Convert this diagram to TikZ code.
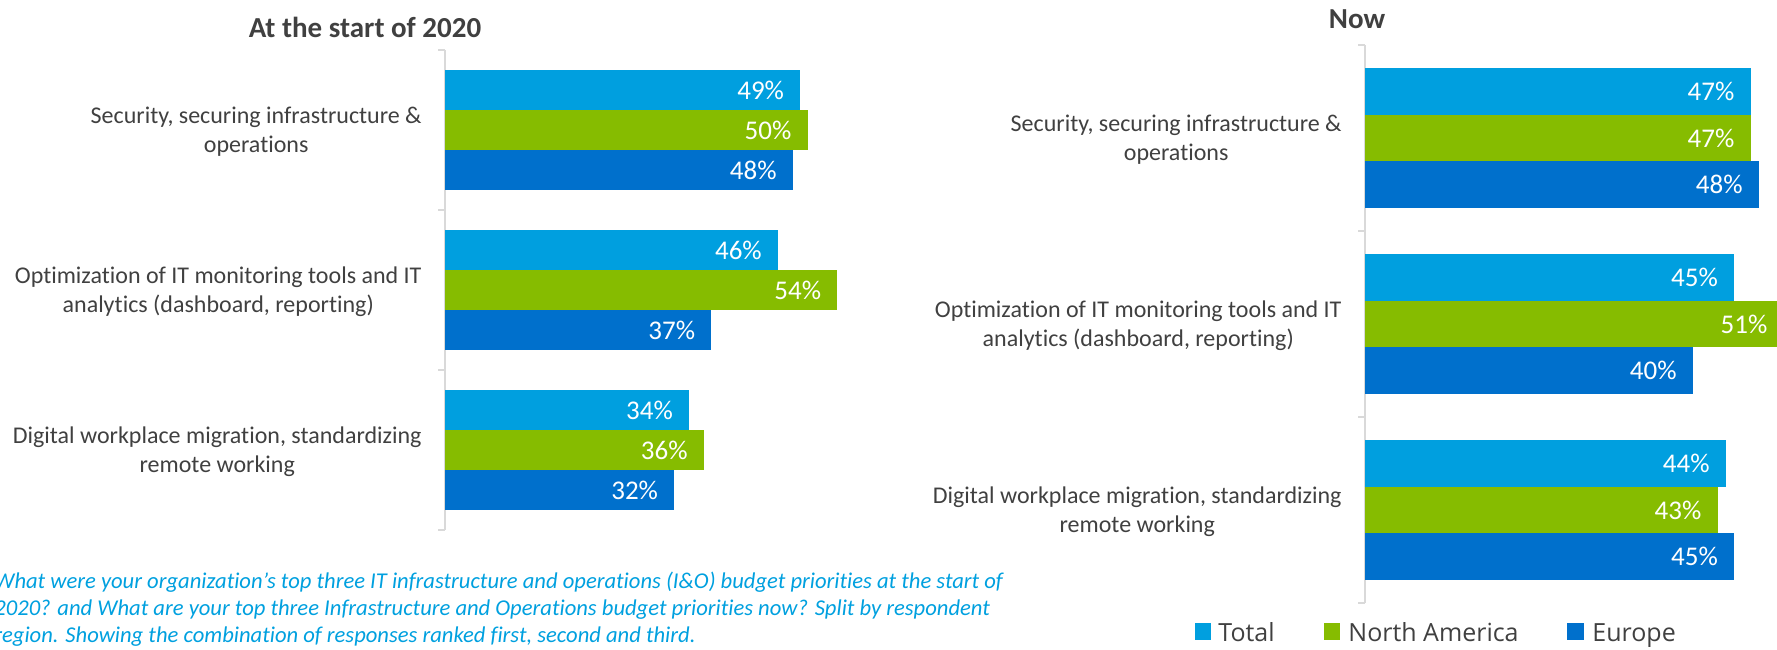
\documentclass[tikz,border=0pt]{standalone}
\usepackage{fontspec}
\setmainfont{Carlito}[Ligatures=NoCommon]
\newfontfamily\legendfont{Open Sans}
\definecolor{totcol}{HTML}{009FDF}
\definecolor{nacol}{HTML}{86BC00}
\definecolor{eucol}{HTML}{0070CC}
\definecolor{txtcol}{HTML}{404040}
\definecolor{axcol}{HTML}{D9D9D9}
\definecolor{notecol}{HTML}{00A0DF}
\tikzset{
  val/.style={anchor=east, inner sep=0pt, text=white, font=\fontsize{13.5}{16}\selectfont},
  catlabel/.style={anchor=east, inner sep=0pt, align=center, text=txtcol, font=\fontsize{12}{14.5}\selectfont},
  charttitle/.style={inner sep=0pt, text=txtcol, font=\bfseries\fontsize{14.5}{17}\selectfont},
  axisline/.style={draw=axcol, line width=0.75pt},
  legtext/.style={anchor=base west, inner sep=0pt, text=txtcol, font=\legendfont\fontsize{12.5}{15}\selectfont}
}
\begin{document}
\begin{tikzpicture}[x=0.5pt,y=-0.5pt]
\useasboundingbox (0,0) rectangle (1777,649);
% left chart
\node[charttitle] (lefttitle) at (365,27) {At the start of 2020};
\draw[axisline] (445,50) -- (445,530);
\draw[axisline] (438,50) -- (445,50);
\draw[axisline] (438,210) -- (445,210);
\draw[axisline] (438,370) -- (445,370);
\draw[axisline] (438,530) -- (445,530);
\fill[totcol] (445,70) rectangle (437.3+49*7.41,110);
\fill[nacol] (445,110) rectangle (437.3+50*7.41,150);
\fill[eucol] (445,150) rectangle (437.3+48*7.41,190);
\fill[totcol] (445,230) rectangle (437.3+46*7.41,270);
\fill[nacol] (445,270) rectangle (437.3+54*7.41,310);
\fill[eucol] (445,310) rectangle (437.3+37*7.41,350);
\fill[totcol] (445,390) rectangle (437.3+34*7.41,430);
\fill[nacol] (445,430) rectangle (437.3+36*7.41,470);
\fill[eucol] (445,470) rectangle (437.3+32*7.41,510);
\node[val] (l1t) at (421.3+49*7.41,90) {49\%};
\node[val] (l1n) at (421.3+50*7.41,130) {50\%};
\node[val] (l1e) at (421.3+48*7.41,170) {48\%};
\node[val] (l2t) at (421.3+46*7.41,250) {46\%};
\node[val] (l2n) at (421.3+54*7.41,290) {54\%};
\node[val] (l2e) at (421.3+37*7.41,330) {37\%};
\node[val] (l3t) at (421.3+34*7.41,410) {34\%};
\node[val] (l3n) at (421.3+36*7.41,450) {36\%};
\node[val] (l3e) at (421.3+32*7.41,490) {32\%};
\node[catlabel] (lcat1) at (422,132) {Security, securing infrastructure \&\\operations};
\node[catlabel] (lcat2) at (422,292) {Optimization of IT monitoring tools and IT\\analytics (dashboard, reporting)};
\node[catlabel] (lcat3) at (422,452) {Digital workplace migration, standardizing\\remote working};
% right chart
\node[charttitle] (righttitle) at (1357,19) {Now};
\draw[axisline] (1365,45) -- (1365,603);
\draw[axisline] (1358,45) -- (1365,45);
\draw[axisline] (1358,231) -- (1365,231);
\draw[axisline] (1358,417) -- (1365,417);
\draw[axisline] (1358,603) -- (1365,603);
\fill[totcol] (1365,68) rectangle (1363+47*8.25,114.7);
\fill[nacol] (1365,114.7) rectangle (1363+47*8.25,161.3);
\fill[eucol] (1365,161.3) rectangle (1363+48*8.25,208);
\fill[totcol] (1365,254) rectangle (1363+45*8.25,300.7);
\fill[nacol] (1365,300.7) rectangle (1363+51*8.25,347.3);
\fill[eucol] (1365,347.3) rectangle (1363+40*8.25,394);
\fill[totcol] (1365,440) rectangle (1363+44*8.25,486.7);
\fill[nacol] (1365,486.7) rectangle (1363+43*8.25,533.3);
\fill[eucol] (1365,533.3) rectangle (1363+45*8.25,580);
\node[val] (r1t) at (1347+47*8.25,91.3) {47\%};
\node[val] (r1n) at (1347+47*8.25,138) {47\%};
\node[val] (r1e) at (1347+48*8.25,184.7) {48\%};
\node[val] (r2t) at (1347+45*8.25,277.3) {45\%};
\node[val] (r2n) at (1347+51*8.25,324) {51\%};
\node[val] (r2e) at (1347+40*8.25,370.7) {40\%};
\node[val] (r3t) at (1347+44*8.25,463.3) {44\%};
\node[val] (r3n) at (1347+43*8.25,510) {43\%};
\node[val] (r3e) at (1347+45*8.25,556.7) {45\%};
\node[catlabel] (rcat1) at (1342,140) {Security, securing infrastructure \&\\operations};
\node[catlabel] (rcat2) at (1342,326) {Optimization of IT monitoring tools and IT\\analytics (dashboard, reporting)};
\node[catlabel] (rcat3) at (1342,512) {Digital workplace migration, standardizing\\remote working};
% footnote
\node[anchor=north west, inner sep=0pt, align=left, text=notecol, font=\itshape\fontsize{11.3}{13.5}\selectfont] (note) at (-6,572)
  {What were your organization’s top three IT infrastructure and operations (I\&O) budget priorities at the start of\\
   2020? and What are your top three Infrastructure and Operations budget priorities now? Split by respondent\\
   region. Showing the combination of responses ranked first, second and third.};
% legend
\fill[totcol] (1195,623) rectangle (1211,640);
\node[legtext] (legtot) at (1218,641) {Total};
\fill[nacol] (1324,623) rectangle (1340,640);
\node[legtext] (legna) at (1348,641) {North America};
\fill[eucol] (1567,623) rectangle (1584,640);
\node[legtext] (legeu) at (1592,641) {Europe};
\end{tikzpicture}
\end{document}
